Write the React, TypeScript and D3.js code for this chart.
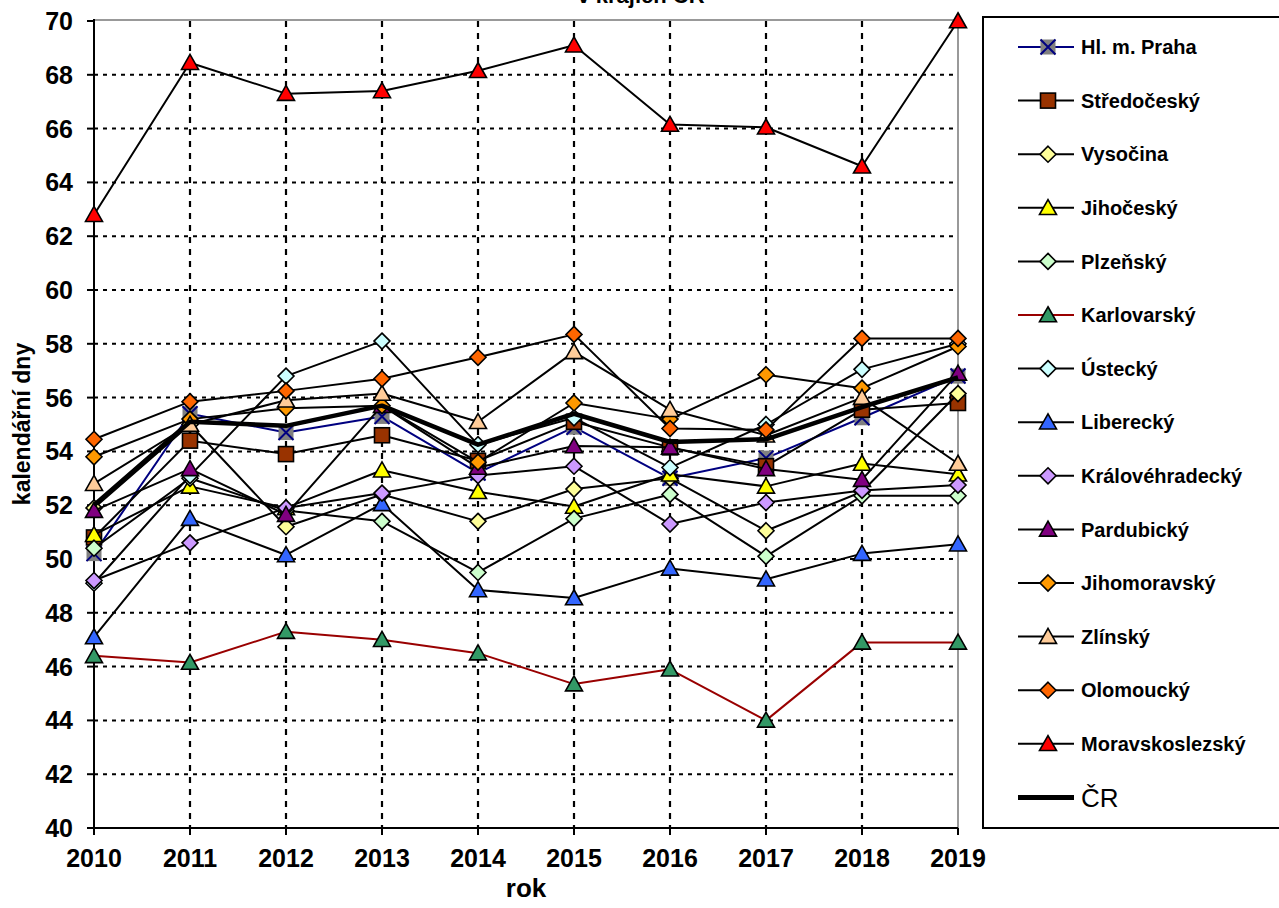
import React from 'react';
import * as d3 from 'd3';

const years = [2010, 2011, 2012, 2013, 2014, 2015, 2016, 2017, 2018, 2019];
const yTicks = [40, 42, 44, 46, 48, 50, 52, 54, 56, 58, 60, 62, 64, 66, 68, 70];

const praha = [50.2, 55.4, 54.7, 55.3, 53.2, 54.9, 53.0, 53.75, 55.25, 56.8];
const stredocesky = [50.8, 54.4, 53.9, 54.6, 53.65, 55.1, 54.15, 53.45, 55.55, 55.8];
const vysocina = [51.9, 55.0, 51.2, 52.4, 51.4, 52.6, 53.0, 51.05, 52.5, 56.15];
const jihocesky = [50.9, 52.7, 51.9, 53.3, 52.5, 51.95, 53.15, 52.7, 53.55, 53.15];
const plzensky = [50.4, 53.0, 51.8, 51.4, 49.5, 51.5, 52.4, 50.1, 52.35, 52.35];
const karlovarsky = [46.4, 46.15, 47.3, 47.0, 46.5, 45.35, 45.9, 44.0, 46.9, 46.9];
const ustecky = [49.1, 53.1, 56.8, 58.1, 54.25, 55.25, 53.4, 55.0, 57.05, 58.0];
const liberecky = [47.1, 51.5, 50.15, 52.05, 48.85, 48.55, 49.65, 49.25, 50.2, 50.55];
const kralovehradecky = [49.2, 50.6, 51.9, 52.45, 53.1, 53.45, 51.3, 52.1, 52.55, 52.75];
const pardubicky = [51.8, 53.35, 51.65, 55.7, 53.4, 54.2, 54.15, 53.35, 52.95, 56.9];
const jihomoravsky = [53.8, 55.2, 55.6, 55.7, 53.6, 55.8, 55.2, 56.85, 56.35, 57.9];
const zlinsky = [52.8, 55.0, 55.9, 56.15, 55.1, 57.7, 55.55, 54.6, 56.0, 53.55];
const olomoucky = [54.45, 55.85, 56.25, 56.7, 57.5, 58.35, 54.85, 54.8, 58.2, 58.2];
const moravskoslezsky = [62.8, 68.45, 67.3, 67.4, 68.15, 69.1, 66.15, 66.05, 64.6, 70.0];
const cr = [52.0, 55.1, 54.95, 55.7, 54.25, 55.4, 54.35, 54.45, 55.65, 56.75];

type Series = { name: string; values: number[]; line: string; marker: string; fill: string; width: number };

const series: Series[] = [
  { name: 'Hl. m. Praha', values: praha, line: '#000080', marker: 'x', fill: '#808080', width: 2 },
  { name: 'Středočeský', values: stredocesky, line: '#000000', marker: 'square', fill: '#993300', width: 2 },
  { name: 'Vysočina', values: vysocina, line: '#000000', marker: 'diamond', fill: '#FFFF99', width: 2 },
  { name: 'Jihočeský', values: jihocesky, line: '#000000', marker: 'triangle', fill: '#FFFF00', width: 2 },
  { name: 'Plzeňský', values: plzensky, line: '#000000', marker: 'diamond', fill: '#CCFFCC', width: 2 },
  { name: 'Karlovarský', values: karlovarsky, line: '#990000', marker: 'triangle', fill: '#339966', width: 2 },
  { name: 'Ústecký', values: ustecky, line: '#000000', marker: 'diamond', fill: '#CCFFFF', width: 2 },
  { name: 'Liberecký', values: liberecky, line: '#000000', marker: 'triangle', fill: '#3366FF', width: 2 },
  { name: 'Královéhradecký', values: kralovehradecky, line: '#000000', marker: 'diamond', fill: '#CC99FF', width: 2 },
  { name: 'Pardubický', values: pardubicky, line: '#000000', marker: 'triangle', fill: '#800080', width: 2 },
  { name: 'Jihomoravský', values: jihomoravsky, line: '#000000', marker: 'diamond', fill: '#FF9900', width: 2 },
  { name: 'Zlínský', values: zlinsky, line: '#000000', marker: 'triangle', fill: '#FFCC99', width: 2 },
  { name: 'Olomoucký', values: olomoucky, line: '#000000', marker: 'diamond', fill: '#FF6600', width: 2 },
  { name: 'Moravskoslezský', values: moravskoslezsky, line: '#000000', marker: 'triangle', fill: '#FF0000', width: 2 },
  { name: 'ČR', values: cr, line: '#000000', marker: 'none', fill: 'none', width: 4.5 },
];

const FONT = '"Liberation Sans", Arial, Helvetica, sans-serif';

function Marker({ kind, x, y, fill, line }: { kind: string; x: number; y: number; fill: string; line: string }) {
  if (kind === 'square') {
    return <rect x={x - 7.5} y={y - 7.5} width={15} height={15} fill={fill} stroke="#000" strokeWidth={1.6} />;
  }
  if (kind === 'diamond') {
    const r = 8;
    return <path d={`M${x},${y - r}L${x + r},${y}L${x},${y + r}L${x - r},${y}Z`} fill={fill} stroke="#000" strokeWidth={1.6} />;
  }
  if (kind === 'triangle') {
    const w = 8.5, h = 15;
    return <path d={`M${x},${y - h * 0.55}L${x + w},${y + h * 0.45}L${x - w},${y + h * 0.45}Z`} fill={fill} stroke="#000" strokeWidth={1.6} strokeLinejoin="miter" />;
  }
  if (kind === 'x') {
    const s = 7.5;
    return (
      <g>
        <rect x={x - s} y={y - s} width={2 * s} height={2 * s} fill={fill} />
        <path d={`M${x - s},${y - s}L${x + s},${y + s}M${x - s},${y + s}L${x + s},${y - s}`} stroke={line} strokeWidth={2} />
      </g>
    );
  }
  return null;
}

export default function App() {
  const x0 = 94, x1 = 958, yTop = 21, yBot = 828;
  const x = d3.scalePoint<number>().domain(years).range([x0, x1]);
  const y = d3.scaleLinear().domain([40, 70]).range([yBot, yTop]);
  const lineGen = (vals: number[]) =>
    d3.line<number>().x((_, i) => x(years[i]) as number).y((v) => y(v))(vals) || '';

  const legendX0 = 1018, legendX1 = 1074, legendTextX = 1081, legendY0 = 47, legendStep = 53.6;

  return (
    <svg width={1279} height={908} style={{ position: 'absolute', left: 0, top: 0, background: '#fff' }} fontFamily={FONT}>
      <rect x={0} y={0} width={1279} height={908} fill="#fff" />
      {/* title fragment */}
      <text x={641} y={3} textAnchor="middle" fontSize={22} fontWeight="bold" fill="#000">v krajích ČR</text>

      {/* horizontal grid */}
      {yTicks.filter((t) => t > 40 && t < 70).map((t) => (
        <line key={'hg' + t} x1={x0} x2={x1} y1={y(t)} y2={y(t)} stroke="#000" strokeWidth={2} strokeDasharray="4,5" />
      ))}
      {/* vertical grid */}
      {years.slice(1, -1).map((yr) => (
        <line key={'vg' + yr} x1={x(yr)} x2={x(yr)} y1={yTop} y2={yBot} stroke="#000" strokeWidth={2.2} strokeDasharray="6,6" />
      ))}
      {/* plot border */}
      <line x1={x0} x2={x1} y1={yTop - 1} y2={yTop - 1} stroke="#999" strokeWidth={2} />
      <line x1={x1} x2={x1} y1={yTop - 1} y2={yBot} stroke="#999" strokeWidth={2} />
      {/* axes */}
      <line x1={x0} x2={x0} y1={yTop - 2} y2={yBot} stroke="#000" strokeWidth={2} />
      <line x1={x0} x2={x1} y1={yBot} y2={yBot} stroke="#000" strokeWidth={2} />
      {yTicks.map((t) => (
        <g key={'yt' + t}>
          <line x1={x0 - 7} x2={x0} y1={y(t)} y2={y(t)} stroke="#000" strokeWidth={2} />
          <text x={73} y={y(t)} dy="0.36em" textAnchor="end" fontSize={25} fontWeight="bold" fill="#000">{t}</text>
        </g>
      ))}
      {years.map((yr) => (
        <g key={'xt' + yr}>
          <line x1={x(yr)} x2={x(yr)} y1={yBot} y2={yBot + 7} stroke="#000" strokeWidth={2} />
          <text x={x(yr)} y={867} textAnchor="middle" fontSize={25} fontWeight="bold" fill="#000">{yr}</text>
        </g>
      ))}
      <text x={526} y={897} textAnchor="middle" fontSize={26} fontWeight="bold" fill="#000">rok</text>
      <text transform={`translate(30,424) rotate(-90)`} textAnchor="middle" fontSize={23} fontWeight="bold" fill="#000">kalendářní dny</text>

      {/* series */}
      {series.map((s) => (
        <g key={s.name}>
          <path d={lineGen(s.values)} fill="none" stroke={s.line} strokeWidth={s.width} strokeLinejoin="round" />
          {s.values.map((v, i) => (
            <Marker key={i} kind={s.marker} x={x(years[i]) as number} y={y(v)} fill={s.fill} line={s.line} />
          ))}
        </g>
      ))}

      {/* legend */}
      <rect x={983} y={17} width={320} height={811} fill="none" stroke="#000" strokeWidth={2} />
      {series.map((s, i) => {
        const ly = legendY0 + i * legendStep;
        const isCR = s.name === 'ČR';
        return (
          <g key={'lg' + s.name}>
            <line x1={legendX0} x2={legendX1} y1={ly} y2={ly} stroke={s.line} strokeWidth={isCR ? 5 : 2} />
            <Marker kind={s.marker} x={(legendX0 + legendX1) / 2 + 2} y={ly} fill={s.fill} line={s.line} />
            <text x={legendTextX} y={ly} dy="0.36em" fontSize={isCR ? 26 : 20} fontWeight={isCR ? 'normal' : 'bold'} fill="#000">{s.name}</text>
          </g>
        );
      })}
    </svg>
  );
}
